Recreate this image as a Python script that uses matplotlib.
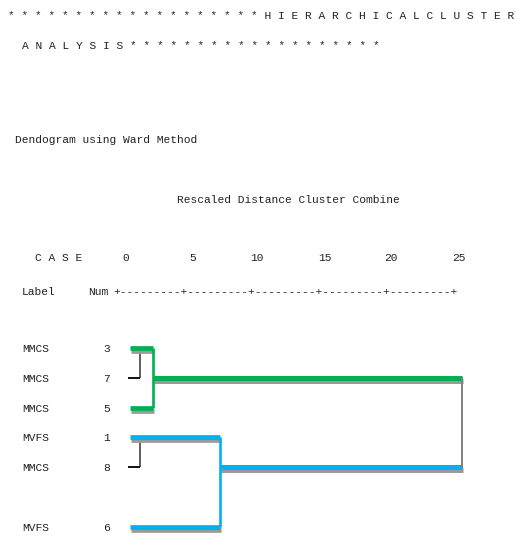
import matplotlib
matplotlib.use("Agg")
import matplotlib.pyplot as plt
import matplotlib.patheffects as pe

# cases in dendrogram order
labels = ["MMCS", "MMCS", "MMCS", "MVFS", "MMCS", "MVFS"]
case_nums = [3, 7, 5, 1, 8, 6]
rows = [0, 1, 2, 3, 4, 6]

# rescaled distances at which clusters combine
pair_dist = [1.7, 1.7]          # 3+7, 1+8
group_dist = [2.7, 7.5]         # (3,7)+5, (1,8)+6
final_dist = 25

tick_values = [0, 5, 10, 15, 20, 25]
tick_px = [126, 193, 257, 325, 391, 459]

W, H = 515, 536
X0, PX_UNIT = 116, 13.84      # pixel of distance 0, pixels per unit
Y0, PX_ROW = 348, 29.8        # pixel of first row, pixels per row

MONO = "Liberation Mono"
FS = 8.1
GREEN = "#00b050"
BLUE = "#00b0f0"

fig = plt.figure(figsize=(W / 100, H / 100), dpi=100)
ax = fig.add_axes([0, 0, 1, 1])
ax.set_xlim(-X0 / PX_UNIT, (W - X0) / PX_UNIT)
ax.set_ylim((H - Y0) / PX_ROW, -Y0 / PX_ROW)
ax.axis("off")


def put(x, y, s, **kw):
    kw.setdefault("ha", "left")
    fig.text(x / W, 1 - y / H, s, family=MONO, fontsize=FS, va="center",
             color="#222222", **kw)


put(8, 16, "* " * 19 + " ".join("HIERARCHICALCLUSTER"))
put(22, 46, " ".join("ANALYSIS") + " " + " ".join("*" * 19))
put(15, 140, "Dendogram using Ward Method")
put(177, 200, "Rescaled Distance Cluster Combine")
put(35, 258, " ".join("CASE"))
for v, px in zip(tick_values, tick_px):
    put(px, 258, str(v), ha="center")
put(22, 292, "Label")
put(88, 292, "Num")
put(113, 292, "+" + "---------+" * 5)

for lab, num, r in zip(labels, case_nums, rows):
    y = Y0 + r * PX_ROW
    put(22, y + 1, lab)
    put(110, y + 1, str(num), ha="right")

stub = 1.0
shadow = [pe.SimpleLineShadow(offset=(0.6, -2.2), shadow_color="#9a9a9a", alpha=1.0),
          pe.Normal()]

# (top row, bottom row) of each pair, then the case added to it and the joining row
pairs = [(rows[0], rows[1]), (rows[3], rows[4])]
added = [rows[2], rows[5]]
join_rows = [rows[1], rows[4]]
colors = [GREEN, BLUE]

for (rt, rb), d in zip(pairs, pair_dist):
    ax.plot([d, d], [rt + 0.08, rb], color="#333333", lw=1.1, solid_capstyle="butt")
    ax.plot([stub - 0.1, d], [rb, rb], color="black", lw=1.3, solid_capstyle="butt")

for (rt, _), rlast, rj, D, c in zip(pairs, added, join_rows, group_dist, colors):
    ax.plot([D, final_dist], [rj, rj], color=c, lw=3.6,
            solid_capstyle="butt", path_effects=shadow)
    for r in (rt, rlast):
        ax.plot([stub, D], [r, r], color=c, lw=3.4,
                solid_capstyle="butt", path_effects=shadow)
    ax.plot([D, D], [rt, rlast], color=c, lw=1.9, solid_capstyle="butt")

ax.plot([final_dist, final_dist], join_rows, color="#808080", lw=1.4)

fig.savefig("out.png", dpi=100)
